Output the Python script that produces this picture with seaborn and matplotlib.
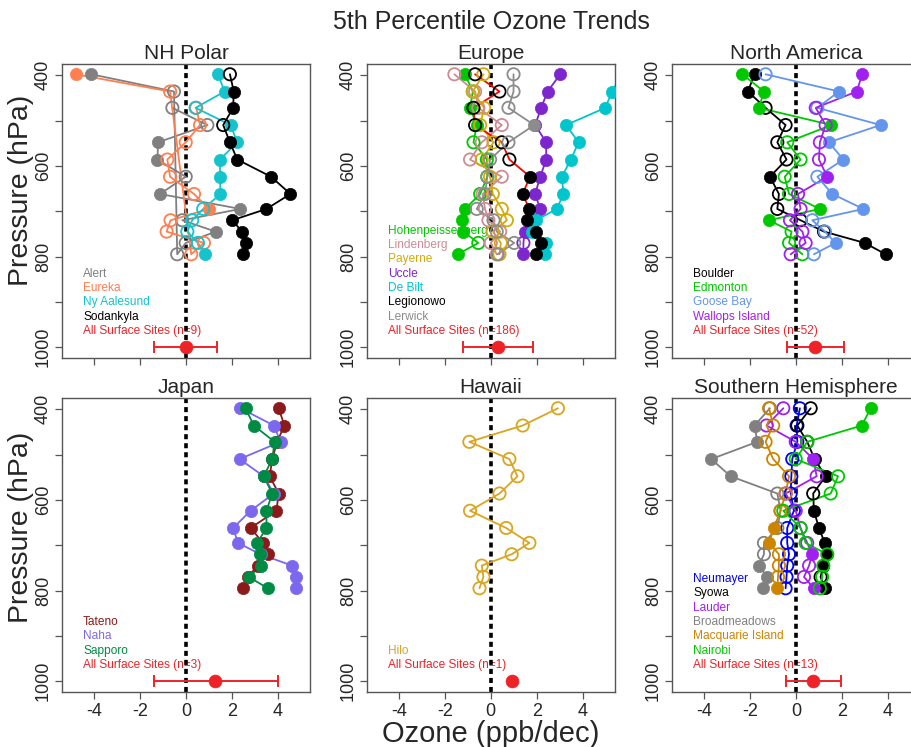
import numpy as np
import pandas as pd
import matplotlib
matplotlib.use("Agg")
import matplotlib.pyplot as plt
import seaborn as sns

sns.set_theme(style="white")
plt.rcParams["font.family"] = ["Liberation Sans", "DejaVu Sans"]
plt.rcParams["axes.unicode_minus"] = False

# ---------------- data ----------------
levels = [398, 436, 472, 510, 548, 586, 624, 662, 695, 720, 745, 770, 795]
seq_order = list(range(13))
# Alert and Eureka profiles are stored top two levels first, then surface-upward
polar_order = [0, 1, 12, 11, 10, 9, 8, 7, 6, 5, 4, 3, 2]

# NH Polar
alert_x = [-4.11, -0.52, -0.59, 0.93, -1.21, -1.24, -0.01, -1.13, 2.37, -0.16, 1.29, -0.01, -0.38]
alert_f = [1, 0, 0, 0, 1, 1, 0, 1, 1, 0, 1, 0, 0]
eureka_x = [-4.79, -0.69, 0.45, 0.61, -0.01, -0.81, -0.69, 0.35, 1.00, -0.67, -0.84, 0.78, 0.23]
eureka_f = [1, 0, 0, 0, 0, 0, 0, 0, 1, 0, 0, 0, 0]
nyaal_x = [1.39, 1.68, 0.42, 1.94, 2.23, 1.48, 1.48, 1.50, 0.75, 0.27, 0.06, 0.52, 0.81]
nyaal_f = [1, 1, 0, 1, 1, 1, 1, 1, 0, 0, 0, 0, 1]
sodan_x = [1.91, 2.08, 2.05, 1.62, 1.91, 2.23, 3.70, 4.54, 3.50, 2.01, 2.44, 2.63, 2.49]
sodan_f = [0, 1, 1, 0, 1, 1, 1, 1, 1, 1, 1, 1, 1]

# Europe
hohen_x = [-1.12, -0.78, -0.90, -0.61, -0.75, -0.17, -0.15, -0.46, -1.12, -1.26, -1.19, -0.54, -1.44]
hohen_f = [1, 0, 1, 1, 0, 0, 0, 0, 1, 1, 1, 0, 1]
linden_x = [-1.58, -0.68, -0.54, 0.48, -0.39, -0.90, 0.48, -0.35, -0.25, -0.10, 0.41, 0.00, 0.26]
linden_f = [0] * 13
payer_x = [-0.32, -0.78, -0.29, -0.46, 0.12, -0.39, -0.03, 0.09, 0.48, 0.70, 0.09, 0.44, 0.38]
payer_f = [0] * 13
uccle_x = [3.02, 2.47, 2.19, 1.93, 2.41, 2.41, 2.15, 1.93, 2.15, 1.79, 1.47, 1.42, 1.42]
uccle_f = [1, 1, 1, 1, 1, 1, 1, 1, 1, 1, 1, 0, 1]
debilt_x = [5.70, 5.27, 4.98, 3.27, 3.82, 3.48, 3.09, 3.16, 2.87, 1.97, 1.79, 2.41, 2.37]
debilt_f = [1] * 13
legio_x = [-0.68, 0.38, -0.75, -0.68, 0.48, 0.81, 1.71, 1.38, 1.68, 1.57, 1.97, 2.19, 1.96]
legio_f = [0, 0, 0, 0, 0, 0, 1, 1, 1, 1, 1, 1, 1]
lerw_x = [0.99, 0.99, 0.77, 1.89, 0.77, -0.03, -0.15, -0.25, -0.61, 0.12, 0.26, 1.02, 0.30]
lerw_f = [0, 0, 0, 1, 0, 0, 0, 0, 0, 0, 0, 0, 0]

# North America
bould_x = [-1.80, -2.09, -1.32, -0.45, -0.81, -0.41, -1.13, -0.74, -0.81, 0.20, 1.22, 2.99, 3.90]
bould_f = [1, 1, 0, 0, 0, 0, 1, 0, 0, 0, 0, 1, 1]
edmon_x = [-2.33, -1.39, -1.61, 1.54, -0.38, 0.20, -0.49, -0.30, 1.04, -1.17, -0.19, -0.30, 0.28]
edmon_f = [1, 1, 1, 1, 0, 0, 0, 0, 1, 1, 0, 0, 0]
goose_x = [-1.32, 1.87, 0.93, 3.68, 1.43, 2.06, 0.93, 1.58, 2.93, 0.71, 1.26, 1.72, 0.78]
goose_f = [0, 1, 0, 1, 1, 1, 0, 1, 1, 0, 0, 1, 0]
wallo_x = [2.88, 2.64, 0.86, 1.29, 1.04, 1.00, 1.36, 0.09, 0.20, -0.26, 0.28, 0.42, -0.23]
wallo_f = [1, 1, 0, 0, 0, 0, 1, 0, 0, 0, 0, 0, 0]

# Japan
tateno_x = [4.03, 4.28, 3.96, 3.75, 3.64, 4.03, 3.93, 2.81, 3.35, 3.56, 3.12, 2.69, 2.49]
tateno_f = [1] * 13
naha_x = [2.37, 3.82, 4.11, 2.33, 3.38, 3.82, 2.81, 2.05, 2.26, 3.24, 4.61, 4.80, 4.80]
naha_f = [1] * 13
sappo_x = [2.59, 2.95, 3.85, 3.75, 3.38, 3.75, 3.50, 3.50, 3.09, 3.21, 3.28, 2.73, 3.56]
sappo_f = [1] * 13

# Hawaii
hilo_x = [2.92, 1.39, -0.93, 0.81, 1.16, 0.38, -0.90, 0.67, 1.68, 0.91, -0.39, -0.32, -0.49]
hilo_f = [0] * 13

# Southern Hemisphere
neum_x = [0.17, 0.03, 0.06, -0.16, -0.20, -0.23, -0.09, -0.38, -0.38, -0.30, -0.38, -0.41, -0.45]
neum_f = [0] * 13
syowa_x = [0.64, 0.06, 0.49, 0.81, 1.29, 0.75, 0.78, 1.00, 1.25, 1.36, 1.19, 1.07, 1.25]
syowa_f = [0, 0, 0, 1, 1, 0, 1, 1, 1, 1, 1, 0, 1]
lauder_x = [-0.55, -1.28, -0.01, 0.75, 0.90, -0.45, -0.01, 0.20, 0.49, 0.71, 0.57, 0.35, 0.78]
lauder_f = [0, 0, 0, 1, 0, 0, 0, 0, 0, 1, 0, 0, 1]
broad_x = [-1.13, -1.80, -1.68, -3.68, -2.84, -0.81, -0.67, -0.81, -1.39, -1.39, -1.61, -1.25, -1.42]
broad_f = [0, 1, 1, 1, 1, 0, 0, 0, 0, 0, 1, 1, 1]
macq_x = [-1.17, -0.99, -1.32, -0.99, -0.30, -0.45, -0.67, -0.96, -1.17, -0.74, -0.74, -0.78, -0.81]
macq_f = [0, 0, 0, 0, 0, 0, 0, 1, 1, 0, 0, 0, 1]
nairo_x = [3.25, 2.86, 0.49, -0.01, 1.83, 1.51, -0.55, 0.20, 0.42, 1.36, 1.19, 1.14, 1.04]
nairo_f = [1, 1, 0, 0, 0, 0, 0, 0, 0, 0, 0, 0, 0]

# Surface sites summary (mean and range) at 1000 hPa
panel_titles = ["NH Polar", "Europe", "North America", "Japan", "Hawaii", "Southern Hemisphere"]
surf_mean = [0.00, 0.30, 0.83, 1.25, 0.94, 0.76]
surf_lo = [-1.41, -1.22, -0.40, -1.41, np.nan, -0.42]
surf_hi = [1.33, 1.83, 2.10, 4.00, np.nan, 1.96]
surf_n = [9, 186, 52, 3, 1, 13]
surf_p = 1000

# ---------------- styling ----------------
RED = "#EE2328"
panels = [
    [("Alert", "#808080", "#808080", alert_x, alert_f, polar_order),
     ("Eureka", "#FF7F50", "#FF7F50", eureka_x, eureka_f, polar_order),
     ("Ny Aalesund", "#14C3CC", "#14C3CC", nyaal_x, nyaal_f, seq_order),
     ("Sodankyla", "#000000", "#000000", sodan_x, sodan_f, seq_order)],
    [("Hohenpeissenberg", "#00C800", "#00C800", hohen_x, hohen_f, seq_order),
     ("Lindenberg", "#CD8C95", "#CD8C95", linden_x, linden_f, seq_order),
     ("Payerne", "#D4AA0A", "#D4AA0A", payer_x, payer_f, seq_order),
     ("Uccle", "#7D26CD", "#7D26CD", uccle_x, uccle_f, seq_order),
     ("De Bilt", "#00C5CD", "#00C5CD", debilt_x, debilt_f, seq_order),
     ("Legionowo", "#000000", "#FF0000", legio_x, legio_f, seq_order),
     ("Lerwick", "#8C8C8C", "#8C8C8C", lerw_x, lerw_f, seq_order)],
    [("Boulder", "#000000", "#000000", bould_x, bould_f, seq_order),
     ("Edmonton", "#00C800", "#00C800", edmon_x, edmon_f, seq_order),
     ("Goose Bay", "#6495ED", "#6495ED", goose_x, goose_f, seq_order),
     ("Wallops Island", "#A020F0", "#A020F0", wallo_x, wallo_f, seq_order)],
    [("Tateno", "#8B1A1A", "#8B1A1A", tateno_x, tateno_f, seq_order),
     ("Naha", "#7B68EE", "#7B68EE", naha_x, naha_f, seq_order),
     ("Sapporo", "#008B45", "#008B45", sappo_x, sappo_f, seq_order)],
    [("Hilo", "#DAA520", "#DAA520", hilo_x, hilo_f, seq_order)],
    [("Neumayer", "#0000FF", "#0000FF", neum_x, neum_f, seq_order),
     ("Syowa", "#000000", "#000000", syowa_x, syowa_f, seq_order),
     ("Lauder", "#A020F0", "#A020F0", lauder_x, lauder_f, seq_order),
     ("Broadmeadows", "#808080", "#808080", broad_x, broad_f, seq_order),
     ("Macquarie Island", "#CD8500", "#CD8500", macq_x, macq_f, seq_order),
     ("Nairobi", "#00C800", "#00C800", nairo_x, nairo_f, seq_order)],
]

W, H = 911, 747
fig = plt.figure(figsize=(W / 100, H / 100), dpi=100)

col_left = [61.7, 366.5, 671.7]
ax_w = 248.5
row_top = [64.3, 398.3]
ax_h = 293.8

MS = 78
SPINE = "#555555"

for i in range(6):
    r, c = divmod(i, 3)
    ax = fig.add_axes([col_left[c] / W, 1 - (row_top[r] + ax_h) / H, ax_w / W, ax_h / H])
    ax.set_facecolor("white")

    # legend text (drawn first, under markers)
    names = [s[0] for s in panels[i]] + ["All Surface Sites (n=%d)" % surf_n[i]]
    cols = [s[1] for s in panels[i]] + [RED]
    nlab = len(names)
    for k, (nm, cc) in enumerate(zip(names, cols)):
        ax.text(-4.47, 964 - 31.5 * (nlab - 1 - k), nm, color=cc, fontsize=8.6,
                ha="left", va="center", zorder=1)

    ax.axvline(0, color="black", lw=2.6, ls=(0, (1.4, 1.1)), zorder=2)

    for (nm, col, lcol, xs, fl, order) in panels[i]:
        df = pd.DataFrame({"x": xs, "p": levels, "f": fl}).iloc[order]
        sns.lineplot(data=df, x="x", y="p", sort=False, estimator=None, color=lcol,
                     lw=1.3, ax=ax, zorder=3)
        dff = df[df.f == 1]
        dfo = df[df.f == 0]
        if len(dff):
            sns.scatterplot(data=dff, x="x", y="p", ax=ax, s=MS, marker="o",
                            color=col, facecolor=col, edgecolor=col, linewidth=0.5, zorder=4)
        if len(dfo):
            sns.scatterplot(data=dfo, x="x", y="p", ax=ax, s=MS, marker="o",
                            color=col, facecolor="none", edgecolor=col, linewidth=1.3, zorder=4)

    # surface summary
    if not np.isnan(surf_lo[i]):
        ax.errorbar([surf_mean[i]], [surf_p],
                    xerr=[[surf_mean[i] - surf_lo[i]], [surf_hi[i] - surf_mean[i]]],
                    fmt="none", ecolor=RED, elinewidth=1.4, capsize=4, capthick=1.4, zorder=4)
    sns.scatterplot(x=[surf_mean[i]], y=[surf_p], ax=ax, s=MS * 1.1, color=RED,
                    edgecolor=RED, linewidth=0.5, zorder=5)

    ax.set_xlim(-5.4, 5.4)
    ax.set_ylim(1024, 376)
    ax.set_xticks([-4, -2, 0, 2, 4])
    ax.set_yticks([400, 500, 600, 700, 800, 900, 1000])
    ax.set_yticklabels(["400", "", "600", "", "800", "", "1000"], rotation=90, va="center")
    if r == 0:
        ax.set_xticklabels([])
    else:
        ax.set_xticklabels(["-4", "-2", "0", "2", "4"])
    ax.tick_params(axis="both", which="both", direction="out", length=5, width=0.9,
                   color=SPINE, labelsize=13, pad=2, bottom=True, left=True)
    ax.tick_params(axis="x", pad=3)
    for sp in ax.spines.values():
        sp.set_color(SPINE)
        sp.set_linewidth(1.0)
        sp.set_visible(True)
    ax.set_xlabel("")
    ax.set_ylabel("")
    ax.set_title(panel_titles[i], fontsize=15, pad=4)

fig.text(491 / W, 1 - 22 / H, "5th Percentile Ozone Trends", ha="center", va="center", fontsize=18)
fig.text(21 / W, 1 - 190 / H, "Pressure (hPa)", rotation=90, ha="center", va="center", fontsize=20.5)
fig.text(21 / W, 1 - 527 / H, "Pressure (hPa)", rotation=90, ha="center", va="center", fontsize=20.5)
fig.text(491 / W, 1 - 734 / H, "Ozone (ppb/dec)", ha="center", va="center", fontsize=21)

fig.savefig("out.png", dpi=100)
